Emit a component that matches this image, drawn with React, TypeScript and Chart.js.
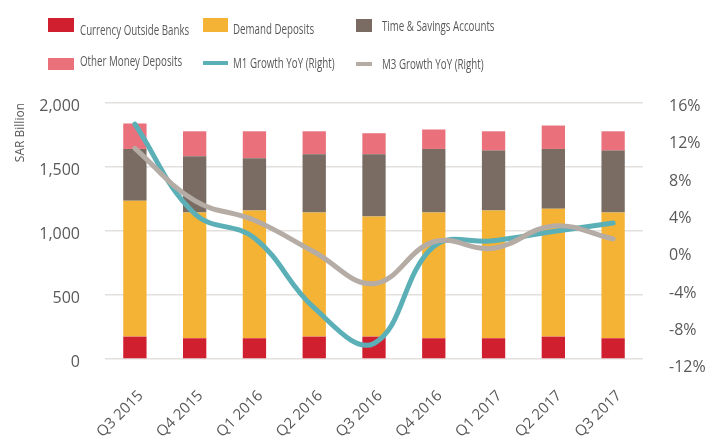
import React, { useEffect, useRef } from 'react';
import { Chart, registerables } from 'chart.js';

Chart.register(...registerables);

// ---- data ----
const categories = ['Q3 2015', 'Q4 2015', 'Q1 2016', 'Q2 2016', 'Q3 2016', 'Q4 2016', 'Q1 2017', 'Q2 2017', 'Q3 2017'];
const currencyOutsideBanks = [175, 162, 162, 175, 175, 162, 162, 175, 162];
const demandDeposits = [1062, 983, 999, 970, 939, 983, 999, 999, 983];
const timeSavingsAccounts = [404, 439, 407, 454, 485, 496, 467, 467, 483];
const otherMoneyDeposits = [199, 195, 211, 180, 165, 152, 151, 183, 151];
const m1GrowthYoY = [14.1, 4.5, 1.9, -5.6, -9.4, 1.0, 1.6, 2.6, 3.5];
const m3GrowthYoY = [11.5, 5.9, 3.8, 0.4, -3.0, 1.5, 0.8, 3.2, 1.8];
const leftTicks = [0, 500, 1000, 1500, 2000];
const rightTicks = [-12, -8, -4, 0, 4, 8, 12, 16];
const seriesNames = [
  'Currency Outside Banks',
  'Demand Deposits',
  'Time & Savings Accounts',
  'Other Money Deposits',
  'M1 Growth YoY (Right)',
  'M3 Growth YoY (Right)',
];

// ---- style ----
const C_RED = '#d01f2f';
const C_YELLOW = '#f5b335';
const C_BROWN = '#7a6c63';
const C_PINK = '#ea717b';
const C_TEAL = '#5bb0b7';
const C_GREY = '#b5aca6';
const TEXT = '#595959';
const FONT = "'Open Sans', sans-serif";

const legendLayout = [
  { name: seriesNames[0], color: C_RED, mx: 48, my: 18, mw: 26, mh: 14, tx: 80, ty: 29 },
  { name: seriesNames[1], color: C_YELLOW, mx: 203, my: 18, mw: 25, mh: 14, tx: 233, ty: 28 },
  { name: seriesNames[2], color: C_BROWN, mx: 356, my: 19, mw: 16, mh: 13, tx: 382, ty: 25 },
  { name: seriesNames[3], color: C_PINK, mx: 48, my: 58, mw: 26, mh: 12, tx: 80, ty: 60 },
  { name: seriesNames[4], color: C_TEAL, mx: 203, my: 61, mw: 25, mh: 4, tx: 233, ty: 62 },
  { name: seriesNames[5], color: C_GREY, mx: 356, my: 62, mw: 16, mh: 4, tx: 382, ty: 63 },
];

export default function App() {
  const ref = useRef<HTMLCanvasElement>(null);

  useEffect(() => {
    const chart = new Chart(ref.current as HTMLCanvasElement, {
      data: {
        labels: categories,
        datasets: [
          {
            type: 'line', label: seriesNames[5], data: m3GrowthYoY, yAxisID: 'y1',
            borderColor: C_GREY, borderWidth: 5, pointRadius: 0, tension: 0.4, order: 0,
            borderCapStyle: 'round', borderJoinStyle: 'round', fill: false,
          },
          {
            type: 'line', label: seriesNames[4], data: m1GrowthYoY, yAxisID: 'y1',
            borderColor: C_TEAL, borderWidth: 5, pointRadius: 0, tension: 0.4, order: 1,
            borderCapStyle: 'round', borderJoinStyle: 'round', fill: false,
          },
          { type: 'bar', label: seriesNames[0], data: currencyOutsideBanks, backgroundColor: C_RED, yAxisID: 'y', order: 2 },
          { type: 'bar', label: seriesNames[1], data: demandDeposits, backgroundColor: C_YELLOW, yAxisID: 'y', order: 2 },
          { type: 'bar', label: seriesNames[2], data: timeSavingsAccounts, backgroundColor: C_BROWN, yAxisID: 'y', order: 2 },
          { type: 'bar', label: seriesNames[3], data: otherMoneyDeposits, backgroundColor: C_PINK, yAxisID: 'y', order: 2 },
        ],
      } as any,
      options: {
        animation: false,
        responsive: false,
        maintainAspectRatio: false,
        layout: { padding: { top: 103, left: 0, right: 0, bottom: 0 } },
        datasets: { bar: { barPercentage: 0.39, categoryPercentage: 1 } } as any,
        plugins: { legend: { display: false }, tooltip: { enabled: false } },
        scales: {
          x: {
            stacked: true,
            grid: { display: false },
            border: { display: false },
            ticks: {
              minRotation: 45, maxRotation: 45, color: TEXT,
              font: { family: FONT, size: 15 }, padding: 20, labelOffset: 6,
            },
            afterFit: (s: any) => { s.height = 82; },
          },
          y: {
            stacked: true,
            position: 'left',
            min: leftTicks[0],
            max: leftTicks[leftTicks.length - 1],
            grid: { color: '#e4e0de', lineWidth: 1.5, drawTicks: false },
            border: { display: false },
            ticks: {
              padding: 25, color: TEXT, labelOffset: 3,
              font: { family: FONT, size: 16 },
              callback: (v: any) => Number(v).toLocaleString('en-US'),
            },
            afterBuildTicks: (s: any) => { s.ticks = leftTicks.map((v) => ({ value: v })); },
            title: {
              display: true, text: 'SAR Billion', align: 'end', color: TEXT,
              font: { family: FONT, size: 12 }, padding: { top: 13, bottom: 0 },
            },
            afterFit: (s: any) => { s.width = 105; },
          },
          y1: {
            position: 'right',
            min: -11.07,
            max: 16.37,
            grid: { display: false, drawTicks: false },
            border: { display: false },
            ticks: {
              padding: 26, color: TEXT, font: { family: FONT, size: 16 },
              callback: (v: any) => `${v}%`,
            },
            afterBuildTicks: (s: any) => { s.ticks = rightTicks.map((v) => ({ value: v })); },
            afterFit: (s: any) => { s.width = 69; },
          },
        } as any,
      },
    });
    return () => chart.destroy();
  }, []);

  return (
    <div style={{ position: 'fixed', left: 0, top: 0, width: 712, height: 441, background: '#fff', overflow: 'hidden' }}>
      <canvas ref={ref} width={712} height={441} style={{ position: 'absolute', left: 0, top: 0 }} />
      {legendLayout.map((it) => (
        <React.Fragment key={it.name}>
          <div style={{ position: 'absolute', left: it.mx, top: it.my, width: it.mw, height: it.mh, background: it.color }} />
          <div
            style={{
              position: 'absolute', left: it.tx, top: it.ty - 10, height: 20, lineHeight: '20px',
              fontFamily: FONT, fontSize: 15, color: TEXT, whiteSpace: 'nowrap',
              transform: 'scaleX(0.65)', transformOrigin: 'left center',
            }}
          >
            {it.name}
          </div>
        </React.Fragment>
      ))}
    </div>
  );
}
